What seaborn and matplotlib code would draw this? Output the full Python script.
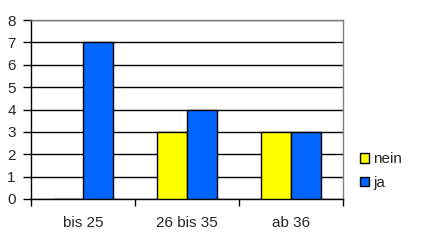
import matplotlib
matplotlib.use("Agg")
import matplotlib.pyplot as plt
import seaborn as sns
import pandas as pd
from matplotlib.ticker import FixedLocator

categories = ["bis 25", "26 bis 35", "ab 36"]
nein = [0, 3, 3]
ja = [7, 4, 3]
series = ["nein", "ja"]
colors = ["#FFFF00", "#0066FF"]

df = pd.DataFrame({
    "Kategorie": categories * 2,
    "Wert": nein + ja,
    "Serie": ["nein"] * 3 + ["ja"] * 3,
})

sns.set_style("white")
plt.rcParams["font.family"] = ["Liberation Sans", "DejaVu Sans"]
FS = 11

fig = plt.figure(figsize=(4.23, 2.42), dpi=100)
ax = fig.add_axes([31 / 423, 43 / 242, 312 / 423, 179 / 242])

sns.barplot(data=df, x="Kategorie", y="Wert", hue="Serie", hue_order=series,
            palette=colors, width=0.577, gap=0, edgecolor="black", linewidth=1,
            saturation=1, ax=ax, legend=True, zorder=3)

ax.set_ylim(0, 8)
ax.set_xlim(-0.5, 2.5)
ax.set_yticks(range(0, 9))
ax.yaxis.grid(True, color="black", linewidth=1, zorder=0)
ax.set_axisbelow(True)
ax.set_xlabel("")
ax.set_ylabel("")

ax.tick_params(axis="y", which="major", length=6, width=1, color="black",
               labelsize=FS, pad=5, left=True)
ax.tick_params(axis="x", which="major", length=0, labelsize=FS, pad=12)
ax.xaxis.set_minor_locator(FixedLocator([-0.5, 0.5, 1.5, 2.5]))
ax.tick_params(axis="x", which="minor", length=5, width=1, color="black",
               direction="out", bottom=True)

for s in ["left", "bottom"]:
    ax.spines[s].set_color("black")
    ax.spines[s].set_linewidth(1)
for s in ["top", "right"]:
    ax.spines[s].set_visible(True)
    ax.spines[s].set_color("#808080")
    ax.spines[s].set_linewidth(1)

leg = ax.legend(loc="center left", bbox_to_anchor=(352 / 423, 1 - 171 / 242),
                bbox_transform=fig.transFigure, frameon=False, fontsize=FS,
                handlelength=0.6, handleheight=0.6, handletextpad=0.3,
                labelspacing=0.65, borderpad=0)
for h in leg.legend_handles:
    h.set_edgecolor("black")
    h.set_linewidth(1)

fig.savefig("out.png", dpi=100)
